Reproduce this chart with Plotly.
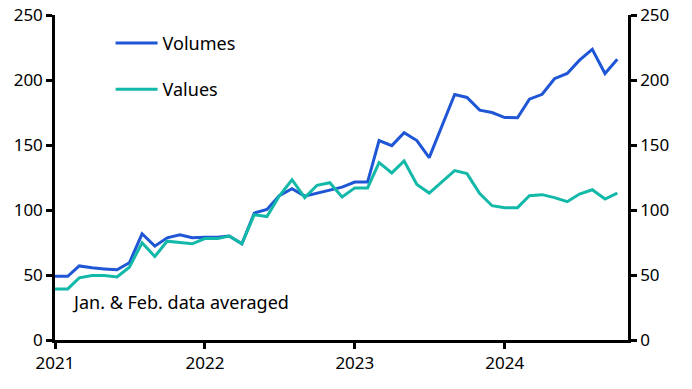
import plotly.graph_objects as go
import pandas as pd

dates = pd.date_range("2021-01-01", periods=46, freq="MS")

volumes = [49, 49, 57, 55.5, 54.7, 54, 59.4, 81.7, 72.2, 78.6, 81, 78.6,
           79, 79, 80, 74, 97.6, 100.4, 111, 116.4, 110.7, 113, 115.6, 117.6,
           121.5, 121.5, 153.4, 149.5, 159.5, 153.4, 140.3, 165, 188.9, 186.6, 176.8, 175,
           171.1, 171, 185.3, 189, 201, 205, 215.3, 223.6, 205, 215.9]

values = [39.3, 39.3, 47.8, 49.6, 49.6, 48.5, 56, 74.8, 64.2, 76, 75, 74,
          78, 78, 80, 74, 96.4, 95, 110.7, 123.3, 109.5, 119, 121, 110,
          117, 117, 136.5, 128.5, 137.7, 119.7, 113, 121.5, 130.3, 128, 112.6, 103.3,
          101.8, 101.8, 111, 111.8, 109.5, 106.4, 112.3, 115.6, 108.4, 113]

tick_years = ["2021-01-01", "2022-01-01", "2023-01-01", "2024-01-01"]
tick_labels = ["2021", "2022", "2023", "2024"]
y_ticks = [0, 50, 100, 150, 200, 250]

BLUE = "#1f56d6"
TEAL = "#13b9a8"
FONT = "Noto Sans"

fig = go.Figure()
fig.add_trace(go.Scatter(x=dates, y=volumes, mode="lines", name="Volumes",
                         line=dict(color=BLUE, width=3), legendgroup="a"))
fig.add_trace(go.Scatter(x=dates, y=values, mode="lines", name="Values",
                         line=dict(color=TEAL, width=3), legendgroup="b"))

axis_common = dict(showgrid=False, zeroline=False, automargin=False,
                   showline=True, linecolor="black", linewidth=2.5,
                   ticks="outside", ticklen=6, tickwidth=2.5, tickcolor="black")

fig.update_layout(
    width=692, height=389,
    margin=dict(l=55, r=64, t=15, b=49),
    paper_bgcolor="white", plot_bgcolor="white",
    font=dict(family=FONT, size=17, color="black"),
    showlegend=True,
    legend=dict(x=0.097, y=0.97, xanchor="left", yanchor="top",
                bgcolor="rgba(0,0,0,0)", tracegroupgap=20, traceorder="grouped",
                itemwidth=42, font=dict(size=18)),
    xaxis=dict(type="date", range=["2021-01-01", "2024-10-27"],
               tickvals=tick_years, ticktext=tick_labels, **axis_common),
    yaxis=dict(range=[0, 250], tickvals=y_ticks, **axis_common),
    yaxis2=dict(range=[0, 250], tickvals=y_ticks, overlaying="y", side="right",
                **axis_common),
    annotations=[dict(text="Jan. & Feb. data averaged", xref="paper", yref="paper",
                      x=0.026, y=0.116, xanchor="left", yanchor="middle",
                      showarrow=False, font=dict(size=18))],
)
fig.add_trace(go.Scatter(x=[dates[0]], y=[None], yaxis="y2", showlegend=False,
                         hoverinfo="skip"))

fig.write_html("out.html", config={"displayModeBar": False},
               post_script="document.body.style.margin='0px';document.body.style.overflow='hidden';")
